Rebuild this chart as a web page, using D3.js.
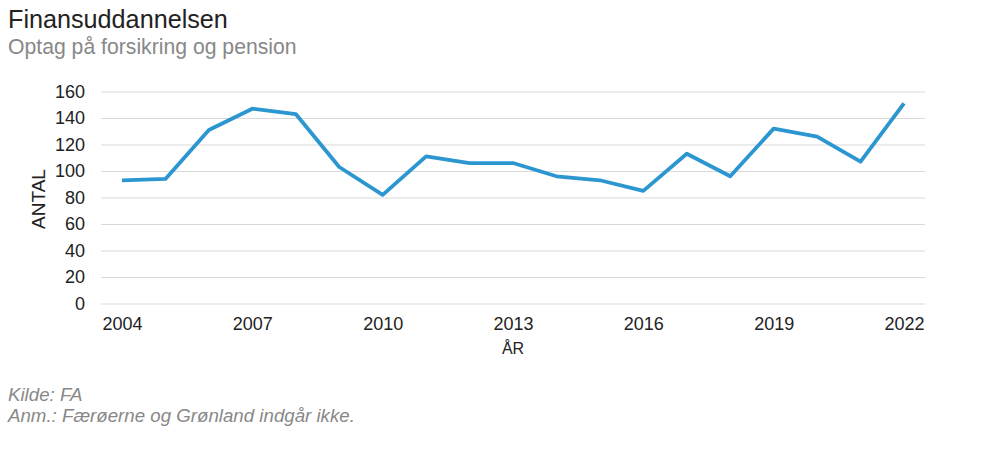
<!DOCTYPE html>
<html><head><meta charset="utf-8">
<script src="https://cdn.jsdelivr.net/npm/d3@7"></script>
<style>body{margin:0;background:#fff;} text{font-family:"Liberation Sans",Arial,sans-serif;}</style>
</head><body>
<svg id="c" width="1000" height="462"></svg>
<script>
const years = [2004,2005,2006,2007,2008,2009,2010,2011,2012,2013,2014,2015,2016,2017,2018,2019,2020,2021,2022];
const values = [93,94,131,147,143,103,82,111,106,106,96,93,85,113,96,132,126,107,151];
const yTicks = [0,20,40,60,80,100,120,140,160];
const xTicks = [2004,2007,2010,2013,2016,2019,2022];

const svg = d3.select("#c");
const x = d3.scaleLinear().domain([2004,2022]).range([122,904]);
const y = d3.scaleLinear().domain([0,160]).range([303.5,91.5]);

svg.append("text").attr("x",8).attr("y",28).attr("font-size",25.2).attr("fill","#222").text("Finansuddannelsen");
svg.append("text").attr("x",8).attr("y",54).attr("font-size",21.2).attr("fill","#888").text("Optag på forsikring og pension");

const gy = svg.append("g").attr("transform","translate(101,0)")
  .call(d3.axisLeft(y).tickValues(yTicks).tickSize(-824).tickPadding(16));
gy.select(".domain").remove();
gy.selectAll("line").attr("stroke","#d9d9d9");
gy.selectAll("text").attr("font-size",18).attr("fill","#222").attr("font-family","Liberation Sans, Arial, sans-serif");

const gx = svg.append("g").attr("transform","translate(0,304)")
  .call(d3.axisBottom(x).tickValues(xTicks).tickFormat(d3.format("d")).tickSize(0).tickPadding(13.5));
gx.select(".domain").remove();
gx.selectAll("text").attr("font-size",18).attr("fill","#222").attr("font-family","Liberation Sans, Arial, sans-serif");

svg.append("text").attr("transform","translate(45,199) rotate(-90)").attr("text-anchor","middle")
  .attr("font-size",19).attr("fill","#222").text("ANTAL");
svg.append("text").attr("x",513).attr("y",354).attr("text-anchor","middle")
  .attr("font-size",16).attr("fill","#222").text("ÅR");

svg.append("path").datum(values.map((v,i)=>[years[i],v]))
  .attr("fill","none").attr("stroke","#2b96d0").attr("stroke-width",3.8)
  .attr("stroke-linejoin","round")
  .attr("d", d3.line().x(d=>x(d[0])).y(d=>y(d[1])));

svg.append("text").attr("x",8).attr("y",401).attr("font-size",18.7).attr("font-style","italic").attr("fill","#888").text("Kilde: FA");
svg.append("text").attr("x",8).attr("y",422).attr("font-size",18.7).attr("font-style","italic").attr("fill","#888").text("Anm.: Færøerne og Grønland indgår ikke.");
</script>
</body></html>
